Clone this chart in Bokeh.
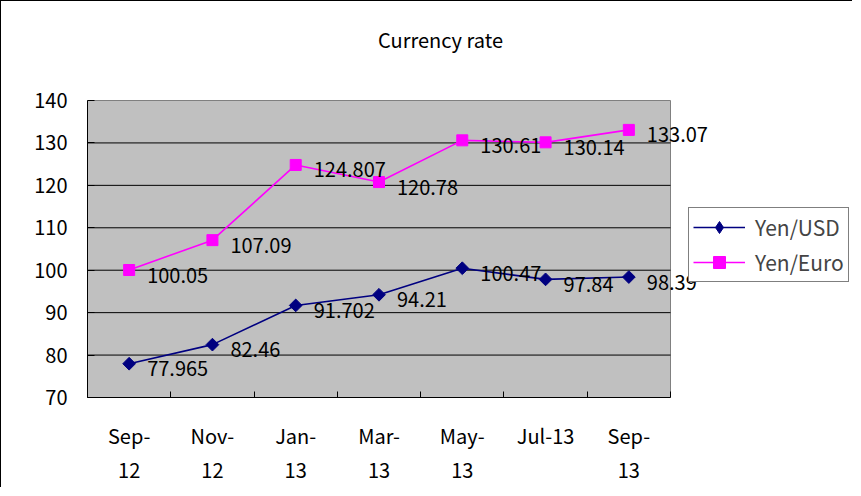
from bokeh.plotting import figure
from bokeh.models import (ColumnDataSource, FixedTicker, Range1d, LabelSet, Label,
                          Legend, LegendItem)
from bokeh.core.properties import value
from bokeh.embed import file_html
from bokeh.resources import INLINE
import numpy as np

months = ["Sep-\n12", "Nov-\n12", "Jan-\n13", "Mar-\n13", "May-\n13", "Jul-13", "Sep-\n13"]
yen_usd = [77.965, 82.46, 91.702, 94.21, 100.47, 97.84, 98.39]
yen_euro = [100.05, 107.09, 124.807, 120.78, 130.61, 130.14, 133.07]
y_ticks = [70, 80, 90, 100, 110, 120, 130, 140]
title_text = "Currency rate"

FONT = "Noto Sans CJK JP"

# layout (canvas pixels)
W, H = 852, 487
FRAME_L, FRAME_B = 86, 396          # frame left edge / frame bottom edge
AREA_R, AREA_T = 669, 99            # right / top of the grey plot area
n = len(months)
ymin, ymax = y_ticks[0], y_ticks[-1]
px_x = (AREA_R - FRAME_L) / n
px_y = (FRAME_B - AREA_T) / (ymax - ymin)
x_end = (W - FRAME_L) / px_x
y_end = ymin + FRAME_B / px_y

xs = [i + 0.5 for i in range(n)]
src_usd = ColumnDataSource(dict(x=xs, y=yen_usd, lab=[str(v) for v in yen_usd]))
src_eur = ColumnDataSource(dict(x=xs, y=yen_euro, lab=[str(v) for v in yen_euro]))

p = figure(width=W, height=H, output_backend="svg", toolbar_location=None,
           x_range=Range1d(0, x_end), y_range=Range1d(ymin, y_end),
           min_border_left=FRAME_L, min_border_right=0, min_border_top=0,
           min_border_bottom=H - FRAME_B)
p.styles = {"border-left": "1px solid #000000", "border-top": "1px solid #000000"}

p.background_fill_color = "white"
p.border_fill_color = "white"
p.outline_line_color = None
p.xgrid.grid_line_color = None
p.ygrid.grid_line_color = None

# grey plot area and grid lines
p.quad(left=[0], right=[n], bottom=[ymin], top=[ymax],
       fill_color="#C0C0C0", line_color="#808080", line_width=1)
p.segment(x0=[0] * (len(y_ticks) - 2), x1=[n] * (len(y_ticks) - 2),
          y0=y_ticks[1:-1], y1=y_ticks[1:-1], line_color="black", line_width=1)

# x axis
xa = p.xaxis[0]
xa.bounds = (0, n)
xa.ticker = FixedTicker(ticks=xs, minor_ticks=list(range(n + 1)))
xa.major_label_overrides = {x: m for x, m in zip(xs, months)}
xa.major_tick_line_color = None
xa.minor_tick_in = 6
xa.minor_tick_out = 0
xa.minor_tick_line_color = "black"
xa.axis_line_color = "black"
xa.major_label_text_font = FONT
xa.major_label_text_font_size = "20px"
xa.major_label_text_color = "black"
xa.major_label_standoff = 17

# y axis
ya = p.yaxis[0]
ya.bounds = (ymin, ymax)
ya.ticker = FixedTicker(ticks=y_ticks)
ya.major_tick_in = 7
ya.major_tick_out = 0
ya.minor_tick_line_color = None
ya.axis_line_color = "black"
ya.major_label_text_font = FONT
ya.major_label_text_font_size = "20px"
ya.major_label_text_color = "black"
ya.major_label_standoff = 20

# series
l_usd = p.line("x", "y", source=src_usd, line_color="#000080", line_width=1.6)
m_usd = p.scatter("x", "y", source=src_usd, marker="square", angle=np.pi / 4, size=9,
                  fill_color="#000080", line_color="#000080")
l_eur = p.line("x", "y", source=src_eur, line_color="#FF00FF", line_width=1.6)
m_eur = p.scatter("x", "y", source=src_eur, marker="square", size=11,
                  fill_color="#FF00FF", line_color="#FF00FF")
# legend-only diamond glyph (a single undrawn NaN point)
k_usd = p.scatter(x=[np.nan], y=[np.nan], marker="diamond", size=14,
                  fill_color="#000080", line_color="#000080")

for src in (src_usd, src_eur):
    p.add_layout(LabelSet(x="x", y="y", text="lab", source=src, x_offset=18, y_offset=-5,
                          text_font=value(FONT), text_font_size="20px", text_color="black",
                          text_baseline="middle", text_align="left"))

p.add_layout(Label(x=439 - FRAME_L, y=FRAME_B - 38, x_units="screen", y_units="screen",
                   text=title_text, text_font=FONT, text_font_size="20px",
                   text_color="black", text_align="center", text_baseline="middle"))

legend = Legend(items=[LegendItem(label="Yen/USD", renderers=[l_usd, k_usd]),
                       LegendItem(label="Yen/Euro", renderers=[l_eur, m_eur])],
                location=(687 - FRAME_L, FRAME_B - 281), orientation="vertical",
                border_line_color="black", border_line_width=1,
                background_fill_color="white", background_fill_alpha=1,
                label_text_font=FONT, label_text_font_size="21px",
                glyph_width=52, glyph_height=30, label_height=30,
                spacing=5, padding=4, margin=0, label_standoff=10)
p.add_layout(legend, "center")

open("out.html", "w").write(file_html(p, INLINE))
